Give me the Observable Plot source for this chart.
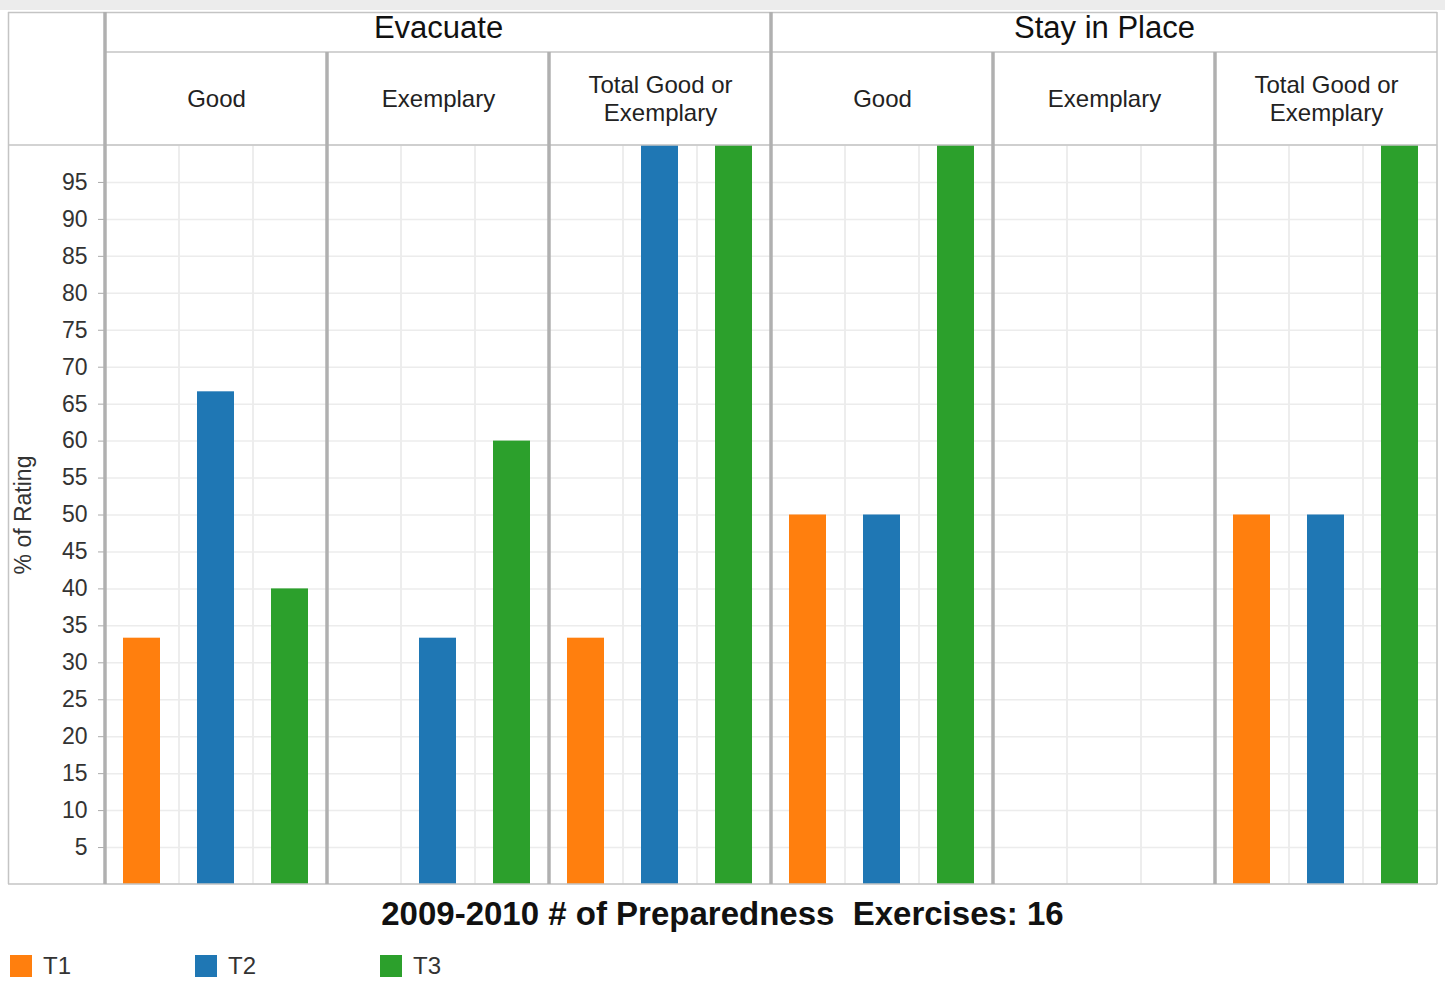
<!DOCTYPE html>
<html>
<head>
<meta charset="utf-8">
<script src="https://cdn.jsdelivr.net/npm/d3@7"></script>
<script src="https://cdn.jsdelivr.net/npm/@observablehq/plot@0.6"></script>
<style>
  html, body { margin: 0; padding: 0; background: #ffffff; }
  body { position: relative; width: 1445px; height: 981px; font-family: "Liberation Sans", Arial, sans-serif; color: #222; }
  #chart svg { display: block; }
  #caption {
    position: absolute; left: 0; top: 896px; width: 1445px; height: 36px; line-height: 36px;
    text-align: center; font-weight: bold; font-size: 33px; white-space: pre; color: #111;
  }
  #legend { position: absolute; left: 0; top: 952px; height: 28px; }
  .item { position: absolute; top: 0; height: 28px; line-height: 28px; font-size: 24px; color: #333; white-space: nowrap; }
  .swatch { position: absolute; left: 0; top: 3px; width: 22px; height: 22px; }
  .item span.lbl { position: absolute; left: 33px; top: 0; }
</style>
</head>
<body>
<div id="chart"></div>
<div id="caption"></div>
<div id="legend"></div>
<script>
// ---- data -------------------------------------------------------------
const groups = ["Evacuate", "Stay in Place"];
const ratings = ["Good", "Exemplary", "Total Good or Exemplary"];
const series = ["T1", "T2", "T3"];
const seriesColors = ["#ff7f0e", "#1f77b4", "#2ca02c"];

// % of rating for T1, T2, T3 (null = no rating)
const evacuateGood = [33.33, 66.67, 40];
const evacuateExemplary = [null, 33.33, 60];
const evacuateTotal = [33.33, 100, 100];
const stayGood = [50, 50, 100];
const stayExemplary = [null, null, null];
const stayTotal = [50, 50, 100];

const yTicks = [5, 10, 15, 20, 25, 30, 35, 40, 45, 50, 55, 60, 65, 70, 75, 80, 85, 90, 95];
const yLabel = "% of Rating";
const captionText = "2009-2010 # of Preparedness  Exercises: 16";

// ---- tables built from the arrays above -------------------------------
const valuesByGroup = [
  [evacuateGood, evacuateExemplary, evacuateTotal],
  [stayGood, stayExemplary, stayTotal]
];
const panelKey = (g, r) => `${g} / ${r}`;
const panels = groups.flatMap((g) => ratings.map((r, ri) => ({group: g, rating: r, ri, key: panelKey(g, r)})));
const rows = groups.flatMap((g, gi) =>
  ratings.flatMap((r, ri) =>
    series.map((s, si) => ({key: panelKey(g, r), series: s, value: valuesByGroup[gi][ri][si]}))
  )
).filter((d) => d.value != null);
const cells = panels.flatMap((p) => series.map((s) => ({key: p.key, series: s})));
const groupLabels = groups.map((g) => ({key: panelKey(g, ratings[1]), group: g}));

// ---- layout -----------------------------------------------------------
const W = 1445, H = 886;
const frameTop = 12;          // top border of the table
const headRow1 = 40;          // group header row
const headRow2 = 93;          // rating header row
const mTop = frameTop + headRow1 + headRow2;
const mLeft = 104, mRight = 7, mBottom = 2, outerLeft = 8;
const thinLine = "#c4c4c4", thickLine = "#b0b0b0", gridLine = "#ececec";

// Table borders, header rules and panel separators, placed with the fx scale.
function tableGrid(index, scales, values, dims) {
  const {fx} = scales;
  const left = outerLeft, right = dims.width - dims.marginRight;
  const bottom = dims.height - dims.marginBottom;
  const y1 = frameTop, y2 = frameTop + headRow1, y3 = dims.marginTop;
  const g = d3.create("svg:g").attr("fill", "none");
  g.append("rect").attr("x", 0).attr("y", 0).attr("width", dims.width).attr("height", 10).attr("fill", "#ececec");
  const line = (xa, ya, xb, yb, stroke, sw) =>
    g.append("line").attr("x1", xa).attr("y1", ya).attr("x2", xb).attr("y2", yb)
      .attr("stroke", stroke).attr("stroke-width", sw);
  line(left, y1 + 0.5, right, y1 + 0.5, thinLine, 1.5);
  line(dims.marginLeft, y2, right, y2, thinLine, 1.5);
  line(left, y3, right, y3, thinLine, 1.5);
  line(left, bottom, right, bottom, thinLine, 1.5);
  line(left + 0.5, y1, left + 0.5, bottom, thinLine, 1.5);
  line(right, y1, right, bottom, thinLine, 1.5);
  line(dims.marginLeft, y1, dims.marginLeft, bottom, thickLine, 3.5);
  for (const p of panels) {
    if (p.ri === 0 && p.group === groups[0]) continue;
    const x = fx(p.key);
    line(x, p.ri === 0 ? y1 : y2, x, bottom, thickLine, 3.5);
  }
  return g.node();
}

const chart = Plot.plot({
  width: W,
  height: H,
  marginTop: mTop,
  marginLeft: mLeft,
  marginRight: mRight,
  marginBottom: mBottom,
  style: {fontFamily: "'Liberation Sans', Arial, sans-serif", fontSize: "23px", color: "#333", background: "white", overflow: "visible"},
  fx: {domain: panels.map((p) => p.key), padding: 0, axis: null},
  x: {domain: series, padding: 0, axis: null},
  y: {domain: [0, 100]},
  color: {domain: series, range: seriesColors},
  marks: [
    Plot.cell(cells, {fx: "key", x: "series", fill: "none", stroke: gridLine, strokeWidth: 1.5}),
    Plot.gridY(yTicks, {stroke: gridLine, strokeOpacity: 1, strokeWidth: 1.5}),
    Plot.barY(rows, {fx: "key", x: "series", y: "value", fill: "series", insetLeft: 18, insetRight: 19}),
    Plot.axisY(yTicks, {
      tickSize: 7, tickPadding: 11, fontSize: 23, stroke: "#aaa", fill: "#333",
      label: yLabel, labelAnchor: "center", labelOffset: 91, labelArrow: "none"
    }),
    Plot.text(panels, {
      fx: "key", text: "rating", frameAnchor: "top", lineAnchor: "middle", dy: -(headRow2 / 2) - 1,
      fontSize: 24, lineWidth: 7.5, lineHeight: 1.17, fill: "#222"
    }),
    Plot.text(groupLabels, {
      fx: "key", text: "group", frameAnchor: "top", lineAnchor: "middle", dy: -(headRow2 + headRow1 / 2) - 4,
      fontSize: 31, letterSpacing: "1px", fill: "#111"
    }),
    Plot.frame({facet: "super", render: tableGrid})
  ]
});
document.getElementById("chart").append(chart);

document.getElementById("caption").textContent = captionText;

const legend = document.getElementById("legend");
series.forEach((s, i) => {
  const item = document.createElement("div");
  item.className = "item";
  item.style.left = (10 + i * 185) + "px";
  const sw = document.createElement("div");
  sw.className = "swatch";
  sw.style.background = seriesColors[i];
  const lbl = document.createElement("span");
  lbl.className = "lbl";
  lbl.textContent = s;
  item.append(sw, lbl);
  legend.append(item);
});
</script>
</body>
</html>
